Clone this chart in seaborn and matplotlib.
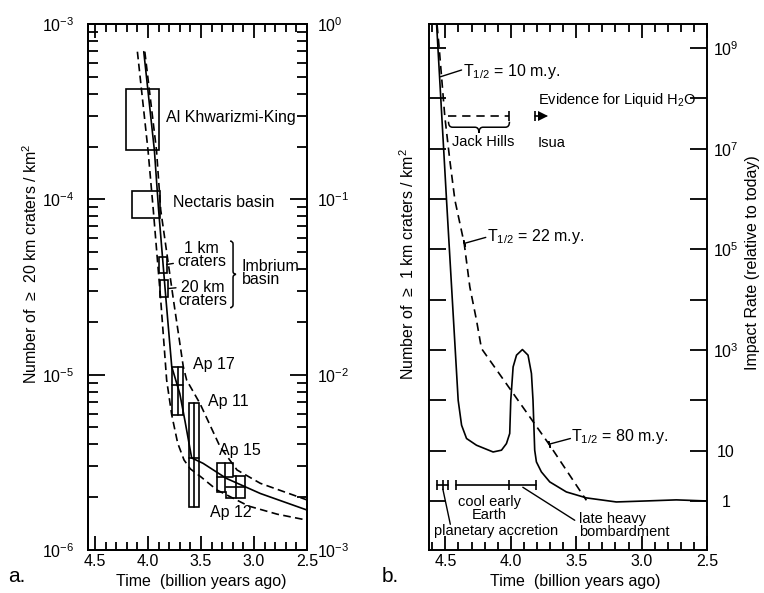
import numpy as np
import matplotlib
matplotlib.use("Agg")
import matplotlib.pyplot as plt
import matplotlib.ticker as mticker
from matplotlib.path import Path
from matplotlib.patches import PathPatch, Rectangle, Polygon
from matplotlib.transforms import IdentityTransform
import seaborn as sns

# ---------------- panel a: lunar crater densities ----------------
# best-fit chronology curve (solid) and its envelope (dashed)
model_time = [4.04, 3.94, 3.90, 3.83, 3.776, 3.70, 3.65, 3.588, 3.48, 3.26, 2.94, 2.50]
model_n = [6.95e-4, 1.91e-4, 8.7e-5, 2.67e-5, 1.11e-5, 7.8e-6, 5.4e-6, 3.35e-6,
           3.12e-6, 2.56e-6, 2.10e-6, 1.69e-6]
upper_time = [4.03, 3.92, 3.88, 3.76, 3.667, 3.635, 3.51, 3.32, 3.16, 2.94, 2.50]
upper_n = [6.95e-4, 1.91e-4, 8.7e-5, 2.67e-5, 1.11e-5, 9.3e-6, 6.85e-6, 3.88e-6,
           2.86e-6, 2.40e-6, 1.93e-6]
lower_time = [4.10, 4.00, 3.95, 3.88, 3.824, 3.776, 3.72, 3.66, 3.60, 3.50, 3.35,
              3.05, 2.78, 2.50]
lower_n = [6.95e-4, 1.91e-4, 8.69e-5, 2.67e-5, 9.31e-6, 5.89e-6, 4.07e-6, 3.26e-6,
           2.90e-6, 2.61e-6, 2.20e-6, 1.78e-6, 1.60e-6, 1.48e-6]

# basin age / density boxes
basin_names = ["Al Khwarizmi-King", "Nectaris basin", "1 km\ncraters", "20 km\ncraters"]
basin_t_old = [4.205, 4.154, 3.896, 3.887]
basin_t_young = [3.896, 3.887, 3.824, 3.808]
basin_n_high = [4.25e-4, 1.11e-4, 4.71e-5, 3.47e-5]
basin_n_low = [1.91e-4, 7.85e-5, 3.81e-5, 2.76e-5]

# Apollo landing-site boxes
apollo_names = ["Ap 17", "Ap 11", "Ap 15", "Ap 12"]
apollo_t_old = [3.776, 3.610, 3.352, 3.264]
apollo_t_young = [3.667, 3.516, 3.201, 3.085]
apollo_n_high = [1.11e-5, 6.86e-6, 3.14e-6, 2.64e-6]
apollo_n_low = [5.89e-6, 1.76e-6, 2.15e-6, 1.97e-6]
apollo_n_mid = [8.73e-6, 3.33e-6, 2.60e-6, 2.28e-6]

# ---------------- panel b: impact rate through time ----------------
rate_time = [4.567, 4.491, 4.402, 4.376, 4.338, 4.262, 4.135, 4.071, 4.033, 4.008,
             4.0, 3.982, 3.956, 3.911, 3.868, 3.842, 3.830, 3.817, 3.804, 3.766,
             3.702, 3.575, 3.422, 3.193, 2.964, 2.735, 2.506]
rate_value = [3.0e9, 9.5e5, 100, 32, 17.4, 12.8, 9.4, 10.2, 13.8, 21.9,
              100, 461, 789, 1020, 789, 341, 100, 10.2, 5.97, 3.78,
              2.39, 1.51, 1.15, 0.955, 1.0, 1.05, 1.0]
decay_time = [4.563, 4.547, 4.529, 4.504, 4.466, 4.427, 4.356, 4.313, 4.262, 4.224,
              3.702, 3.422]
decay_value = [2.86e9, 9.86e8, 2.69e8, 4.31e7, 5.93e6, 9.5e5, 1.31e5, 1.79e4,
               3.91e3, 1.07e3, 12.8, 1.03]

rate_ticks = [1, 10, 1e2, 1e3, 1e4, 1e5, 1e6, 1e7, 1e8, 1e9]
rate_tick_labels = ["1", "10", "", "$10^3$", "", "$10^5$", "", "$10^7$", "", "$10^9$"]

# water evidence
jack_hills = [4.476, 4.01]
isua = [3.815, 3.73]
evidence_level = 4.4e7

# event intervals
accretion = [4.563, 4.519, 4.476]
cool_early_earth = [4.418, 4.01]
late_bombardment = [4.01, 3.807]
interval_level = 2.05

# ---------------- style ----------------
sns.set_theme(style="ticks")
plt.rcParams.update({
    "font.family": ["Liberation Sans", "DejaVu Sans"],
    "font.size": 11.5,
    "mathtext.fontset": "custom",
    "mathtext.rm": "Liberation Sans",
    "mathtext.it": "Liberation Sans:italic",
    "mathtext.bf": "Liberation Sans:bold",
    "mathtext.default": "regular",
    "axes.edgecolor": "black",
    "axes.linewidth": 1.4,
    "axes.labelcolor": "black",
    "text.color": "black",
    "xtick.color": "black",
    "ytick.color": "black",
})

W, H = 764, 593
fig = plt.figure(figsize=(W / 100, H / 100), dpi=100)
ax1 = fig.add_axes([88 / W, 43 / H, 219 / W, 526 / H])
ax2 = fig.add_axes([429 / W, 43 / H, 278 / W, 526 / H])

LW = 1.2
DASH_A = (0, (4.6, 2.6))
DASH_B = (0, (5.0, 3.2))


def brace(ax, start, end, depth, radius, lw=1.1):
    """Curly brace from start to end (data coords); the tip bulges to the
    left of the start->end direction, sizes in pixels."""
    a = ax.transData.transform(start)
    b = ax.transData.transform(end)
    d = b - a
    L = np.hypot(*d)
    t = d / L
    n = np.array([-t[1], t[0]])
    h = depth / 2.0
    local = [(0, 0), (0, h), (radius, h), (L / 2 - radius, h), (L / 2, h), (L / 2, depth),
             (L / 2, h), (L / 2 + radius, h), (L - radius, h), (L, h), (L, 0)]
    codes = [Path.MOVETO, Path.CURVE3, Path.CURVE3, Path.LINETO, Path.CURVE3, Path.CURVE3,
             Path.CURVE3, Path.CURVE3, Path.LINETO, Path.CURVE3, Path.CURVE3]
    verts = [a + s * t + q * n for s, q in local]
    ax.add_artist(PathPatch(Path(verts, codes), fill=False, edgecolor="black", lw=lw,
                            transform=IdentityTransform(), clip_on=False))


def leader(ax, start, end, tick=False):
    """Straight pointer line; optionally with a short cross-bar at its start."""
    ax.plot([start[0], end[0]], [start[1], end[1]], color="black", lw=1.0)
    if tick:
        a = ax.transData.transform(start)
        b = ax.transData.transform(end)
        ang = np.degrees(np.arctan2(b[1] - a[1], b[0] - a[0]))
        ax.plot([start[0]], [start[1]], ls="none", marker=(2, 2, ang), ms=5,
                mew=1.0, color="black")


def time_axis(ax, left):
    ax.set_xlim(left, 2.5)
    ax.xaxis.set_major_locator(mticker.MultipleLocator(0.5))
    ax.xaxis.set_minor_locator(mticker.MultipleLocator(0.1))
    ax.xaxis.set_major_formatter(mticker.FormatStrFormatter("%.1f"))
    ax.tick_params(axis="x", which="both", direction="in", top=True, bottom=True)
    ax.tick_params(axis="x", which="major", length=10, width=1.3, pad=3, labelsize=11.5)
    ax.tick_params(axis="x", which="minor", length=6, width=1.3)
    ax.set_xlabel("Time  (billion years ago)", fontsize=11.5)


def power_label(v, pos):
    return f"$10^{{{int(round(np.log10(v)))}}}$"


# ================= panel a =================
ax1.set_yscale("log")
sns.lineplot(x=model_time, y=model_n, ax=ax1, color="black", lw=LW, sort=False, estimator=None)
sns.lineplot(x=upper_time, y=upper_n, ax=ax1, color="black", lw=LW, linestyle=DASH_A,
             sort=False, estimator=None)
sns.lineplot(x=lower_time, y=lower_n, ax=ax1, color="black", lw=LW, linestyle=DASH_A,
             sort=False, estimator=None)

time_axis(ax1, 4.566)
ax1.set_ylim(1e-6, 1e-3)
ax1.xaxis.set_label_coords(0.515, -0.046)
ax1.yaxis.set_major_locator(mticker.LogLocator(base=10, numticks=10))
ax1.yaxis.set_minor_locator(mticker.LogLocator(base=10, subs=np.arange(2, 10), numticks=10))
ax1.yaxis.set_major_formatter(mticker.FuncFormatter(power_label))
ax1.yaxis.set_minor_formatter(mticker.NullFormatter())
ax1.tick_params(axis="y", which="both", direction="in", left=True, right=False)
ax1.tick_params(axis="y", which="major", length=12, width=1.3, pad=10, labelsize=11.5)
ax1.tick_params(axis="y", which="minor", length=7, width=1.3)
ax1.set_ylabel("")

ax1r = ax1.twinx()
ax1r.set_yscale("log")
ax1r.set_ylim(1e-3, 1)
ax1r.yaxis.set_major_locator(mticker.LogLocator(base=10, numticks=10))
ax1r.yaxis.set_minor_locator(mticker.LogLocator(base=10, subs=np.arange(2, 10), numticks=10))
ax1r.yaxis.set_major_formatter(mticker.FuncFormatter(power_label))
ax1r.yaxis.set_minor_formatter(mticker.NullFormatter())
ax1r.tick_params(axis="y", which="both", direction="in", right=True)
ax1r.tick_params(axis="y", which="major", length=12, width=1.3, pad=7, labelsize=11.5)
ax1r.tick_params(axis="y", which="minor", length=7, width=1.3)

# basin boxes
for to, ty, nh, nl in zip(basin_t_old, basin_t_young, basin_n_high, basin_n_low):
    ax1.add_patch(Rectangle((ty, nl), to - ty, nh - nl, fill=False, ec="black", lw=LW))

# Apollo 17 and 11 boxes
for i in (0, 1):
    to, ty = apollo_t_old[i], apollo_t_young[i]
    nh, nl = apollo_n_high[i], apollo_n_low[i]
    ax1.add_patch(Rectangle((ty, nl), to - ty, nh - nl, fill=False, ec="black", lw=LW))

# Apollo 15 and 12 share one outline
a15, a12 = 2, 3
outline = [(apollo_t_old[a15], apollo_n_high[a15]), (apollo_t_young[a15], apollo_n_high[a15]),
           (apollo_t_young[a15], apollo_n_high[a12]), (apollo_t_young[a12], apollo_n_high[a12]),
           (apollo_t_young[a12], apollo_n_low[a12]), (apollo_t_old[a12], apollo_n_low[a12]),
           (apollo_t_old[a12], apollo_n_low[a15]), (apollo_t_old[a15], apollo_n_low[a15])]
ax1.add_patch(Polygon(outline, closed=True, fill=False, ec="black", lw=LW))

# centre crosses of the Apollo boxes
for to, ty, nh, nl, nm in zip(apollo_t_old, apollo_t_young, apollo_n_high, apollo_n_low, apollo_n_mid):
    tc = 0.5 * (to + ty)
    ax1.plot([tc, tc], [nl, nh], color="black", lw=LW)
    ax1.plot([to, ty], [nm, nm], color="black", lw=LW)

# labels, panel a
TS = 11.5
ax1.text(3.83, 2.91e-4, basin_names[0], ha="left", va="center", fontsize=TS)
ax1.text(3.767, 9.57e-5, basin_names[1], ha="left", va="center", fontsize=TS)
ax1.text(3.495, 4.81e-5, basin_names[2], ha="center", va="center", fontsize=TS, linespacing=0.88)
ax1.text(3.48, 2.88e-5, basin_names[3], ha="center", va="center", fontsize=TS, linespacing=0.88)
leader(ax1, (basin_t_young[2], 4.25e-5), (3.761, 4.31e-5))
leader(ax1, (basin_t_young[3], 3.1e-5), (3.736, 3.13e-5))
ax1.text(3.116, 3.81e-5, "Imbrium\nbasin", ha="left", va="center", fontsize=TS, linespacing=0.88)
ax1.text(3.573, 1.15e-5, apollo_names[0], ha="left", va="center", fontsize=TS)
ax1.text(3.431, 7.0e-6, apollo_names[1], ha="left", va="center", fontsize=TS)
ax1.text(3.327, 3.68e-6, apollo_names[2], ha="left", va="center", fontsize=TS)
ax1.text(3.415, 1.63e-6, apollo_names[3], ha="left", va="center", fontsize=TS)
brace(ax1, (3.226, 5.78e-5), (3.226, 2.41e-5), depth=6, radius=3)

# ================= panel b =================
ax2.set_yscale("log")
sns.lineplot(x=rate_time, y=rate_value, ax=ax2, color="black", lw=LW, sort=False, estimator=None)
sns.lineplot(x=decay_time, y=decay_value, ax=ax2, color="black", lw=LW, linestyle=DASH_B,
             sort=False, estimator=None)

time_axis(ax2, 4.625)
ax2.set_ylim(0.106, 3.0e9)
ax2.xaxis.set_label_coords(0.525, -0.046)
ax2.yaxis.set_major_locator(mticker.FixedLocator(rate_ticks))
ax2.yaxis.set_minor_locator(mticker.NullLocator())
ax2.yaxis.set_major_formatter(mticker.FixedFormatter(rate_tick_labels))
ax2.tick_params(axis="y", which="major", direction="in", left=True, right=True,
                labelleft=False, labelright=True, length=12, width=1.3, pad=13.5, labelsize=11.5)
for lbl in ax2.get_yticklabels():
    lbl.set_horizontalalignment("center")
ax2.set_ylabel("")

SS = 10.5
# half-life annotations
leader(ax2, (4.537, 10 ** 8.429), (4.376, 10 ** 8.563))
ax2.text(4.366, 10 ** 8.529, "T$_{1/2}$ = 10 m.y.", ha="left", va="center", fontsize=TS)
leader(ax2, (4.356, 10 ** 5.117), (4.191, 10 ** 5.237), tick=True)
ax2.text(4.181, 10 ** 5.249, "T$_{1/2}$ = 22 m.y.", ha="left", va="center", fontsize=TS)
leader(ax2, (3.708, 10 ** 1.127), (3.544, 10 ** 1.241), tick=True)
ax2.text(3.537, 10 ** 1.272, "T$_{1/2}$ = 80 m.y.", ha="left", va="center", fontsize=TS)

# liquid water evidence
ax2.plot(jack_hills, [evidence_level] * 2, color="black", lw=LW, linestyle=(0, (5.0, 3.5)))
ax2.plot([jack_hills[1]], [evidence_level], marker="|", ms=7, mew=LW, color="black")
brace(ax2, (jack_hills[1], 3.43e7), (jack_hills[0], 3.43e7), depth=11, radius=4)
ax2.text(4.214, 1.37e7, "Jack Hills", ha="center", va="center", fontsize=SS)
ax2.plot(isua, [evidence_level] * 2, color="black", lw=LW)
ax2.plot([isua[0]], [evidence_level], marker="|", ms=7, mew=LW, color="black")
ax2.plot([isua[1] + 0.025], [evidence_level], marker=">", ms=6.5, color="black", mew=0)
ax2.text(3.794, 1.27e7, "Isua", ha="left", va="center", fontsize=SS)
ax2.text(3.792, 9.25e7, "Evidence for Liquid H$_2$O", ha="left", va="center", fontsize=SS)

# event intervals
ax2.plot([accretion[0], accretion[-1]], [interval_level] * 2, color="black", lw=LW)
ax2.plot(accretion, [interval_level] * 3, ls="none", marker="|", ms=6.5, mew=LW, color="black")
ax2.plot([cool_early_earth[0], late_bombardment[1]], [interval_level] * 2, color="black", lw=LW)
ax2.plot(cool_early_earth + late_bombardment[1:], [interval_level] * 3, ls="none",
         marker="|", ms=6.5, mew=LW, color="black")
ax2.text(4.163, 0.72, "cool early\nEarth", ha="center", va="center", fontsize=SS, linespacing=0.9)
leader(ax2, (4.519, 1.71), (4.462, 0.344))
ax2.text(4.112, 0.252, "planetary accretion", ha="center", va="center", fontsize=SS)
leader(ax2, (3.908, 1.87), (3.511, 0.413))
ax2.text(3.479, 0.321, "late heavy\nbombardment", ha="left", va="center", fontsize=SS, linespacing=0.9)

# axis titles and panel letters
fig.text(31 / W, 1 - 264 / H, "Number of  \u2265  20 km craters / km$^2$", rotation=90,
         ha="center", va="center", fontsize=11.5)
fig.text(408 / W, 1 - 264 / H, "Number of  \u2265  1 km craters / km$^2$", rotation=90,
         ha="center", va="center", fontsize=11.5)
fig.text(752 / W, 1 - 263 / H, "Impact Rate (relative to today)", rotation=90,
         ha="center", va="center", fontsize=11.5)
fig.text(17 / W, 1 - 577 / H, "a.", ha="center", va="center", fontsize=15)
fig.text(390 / W, 1 - 577 / H, "b.", ha="center", va="center", fontsize=15)

fig.savefig("out.png", dpi=100)
